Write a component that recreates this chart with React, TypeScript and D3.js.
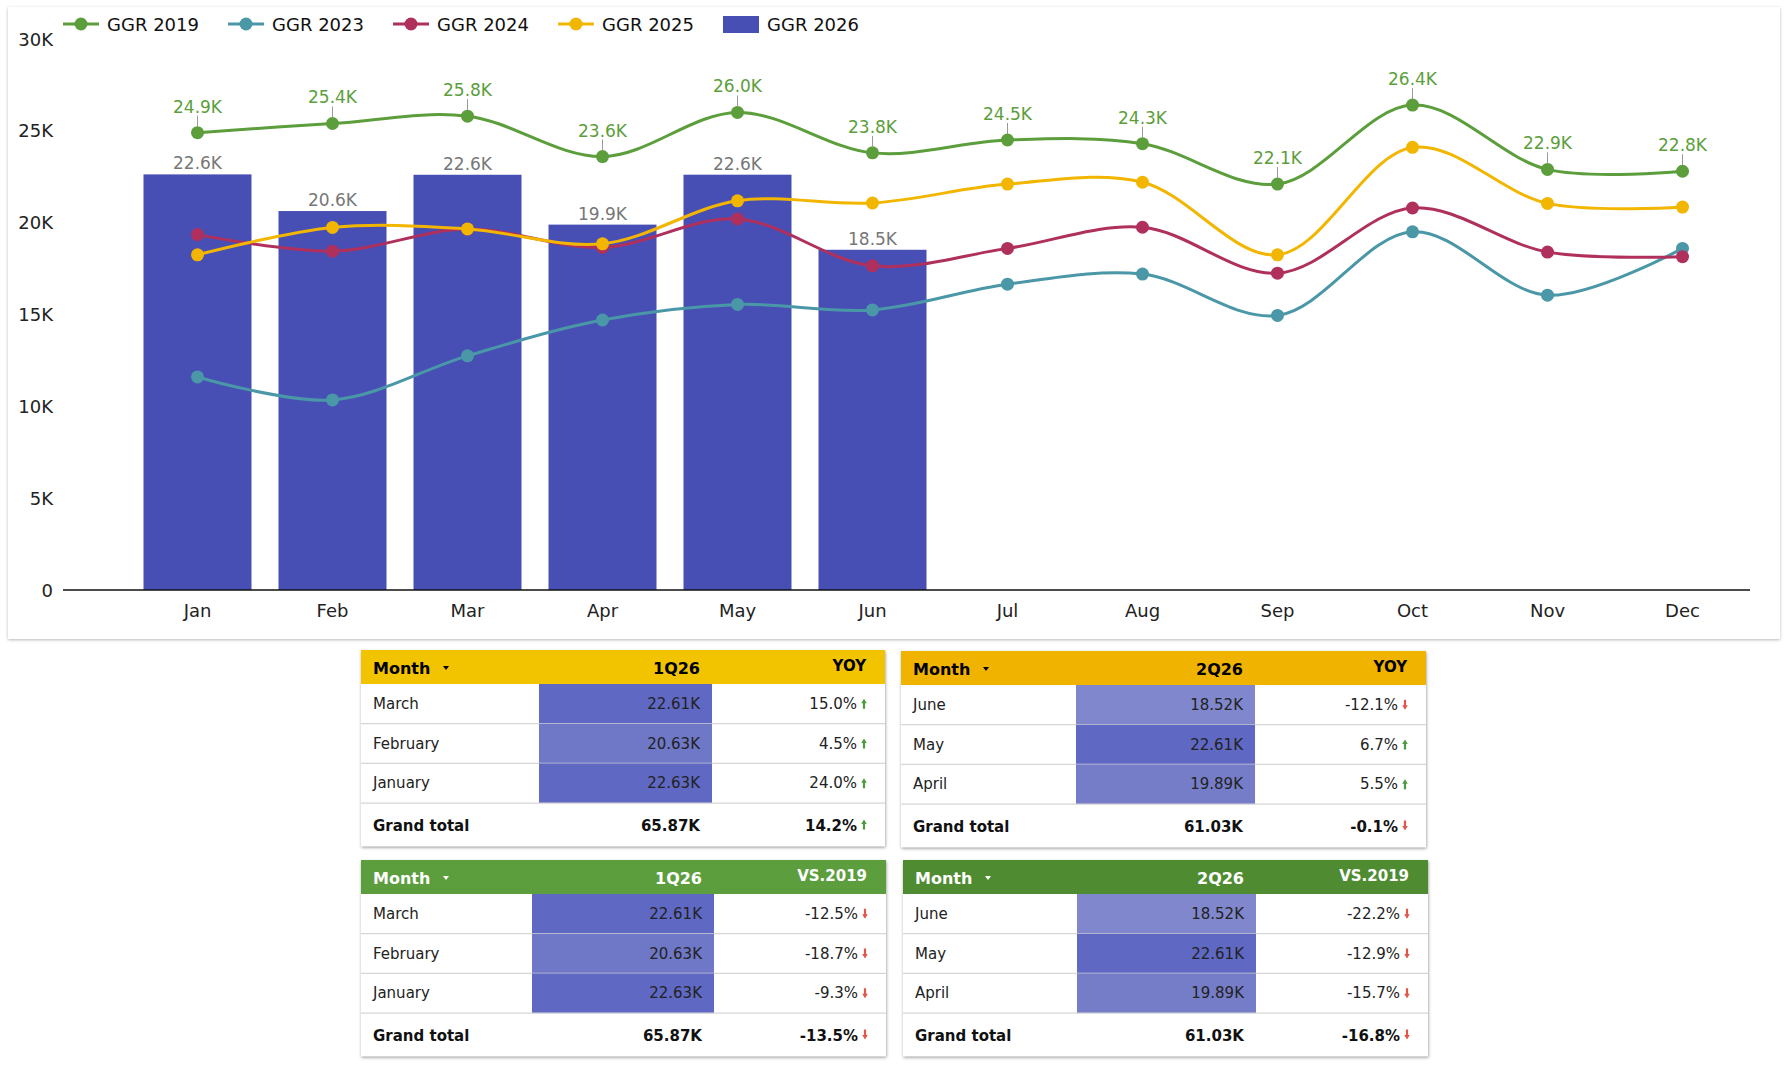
import React from 'react';
import * as d3 from 'd3';

// Monthly GGR by year
const months = ['Jan', 'Feb', 'Mar', 'Apr', 'May', 'Jun', 'Jul', 'Aug', 'Sep', 'Oct', 'Nov', 'Dec'];
const ggr2019 = [24900, 25400, 25800, 23600, 26000, 23800, 24500, 24300, 22100, 26400, 22900, 22800];
const ggr2023 = [11600, 10350, 12750, 14700, 15550, 15250, 16650, 17200, 14950, 19500, 16050, 18600];
const ggr2024 = [19350, 18450, 19650, 18650, 20200, 17650, 18600, 19750, 17250, 20800, 18400, 18150];
const ggr2025 = [18250, 19740, 19660, 18850, 21190, 21070, 22100, 22200, 18250, 24100, 21050, 20850];
const ggr2026 = [22628, 20633, 22608, 19894, 22612, 18524];

const yTicks = [0, 5000, 10000, 15000, 20000, 25000, 30000];

// Quarter tables
const monthNames = ['January', 'February', 'March', 'April', 'May', 'June'];
const q1Rows = [2, 1, 0];
const q2Rows = [5, 4, 3];
const q1Yoy = [15.0, 4.5, 24.0];
const q1YoyTotal = 14.2;
const q2Yoy = [-12.1, 6.7, 5.5];
const q2YoyTotal = -0.1;
const q1Vs2019 = [-12.5, -18.7, -9.3];
const q1Vs2019Total = -13.5;
const q2Vs2019 = [-22.2, -12.9, -15.7];
const q2Vs2019Total = -16.8;

const C2019 = '#5b9e3b';
const C2023 = '#4a97a8';
const C2024 = '#b0305d';
const C2025 = '#f2b600';
const C2026 = '#474fb4';

const FONT = '"DejaVu Sans", Verdana, sans-serif';

const loc = d3.formatLocale({ decimal: '.', thousands: ',', grouping: [3], currency: ['$', ''], minus: '-' });
const fmtK1 = (v: number) => loc.format('.1f')(v / 1000) + 'K';
const fmtK2 = (v: number) => loc.format('.2f')(v / 1000) + 'K';
const fmtPct = (v: number) => loc.format('.1f')(v) + '%';

const series = [
  { name: 'GGR 2019', values: ggr2019, color: C2019 },
  { name: 'GGR 2023', values: ggr2023, color: C2023 },
  { name: 'GGR 2024', values: ggr2024, color: C2024 },
  { name: 'GGR 2025', values: ggr2025, color: C2025 },
];

const heat = d3.scaleLinear<string>().domain([18524, 22628]).range(['#8087cd', '#5f68c2']);

function Arrow({ cx, cy, up }: { cx: number; cy: number; up: boolean }) {
  const s = up ? 1 : -1;
  const t = cy - 5 * s;
  const d = `M${cx},${t} L${cx + 2.8},${t + 4.5 * s} L${cx + 1.1},${t + 4.5 * s} L${cx + 1.1},${t + 10 * s} L${cx - 1.1},${t + 10 * s} L${cx - 1.1},${t + 4.5 * s} L${cx - 2.8},${t + 4.5 * s} Z`;
  return <path d={d} fill={up ? '#4e9a3e' : '#e2574b'} />;
}

type TableProps = {
  x: number; y: number; w: number; barX: number; barW: number;
  head: string; headText: string; quarter: string; metric: string;
  rows: number[]; pcts: number[]; totalPct: number;
};

function QuarterTable(p: TableProps) {
  const headH = 34, rowH = 39.7, totH = 43;
  const h = headH + rowH * 3 + totH;
  const valRight = p.barX + p.barW - 12;
  const pctRight = p.x + p.w - 28;
  const arrowX = p.x + p.w - 21;
  const total = d3.sum(p.rows, (i) => ggr2026[i]);
  const totY = p.y + headH + rowH * 3;
  return (
    <g>
      <rect x={p.x} y={p.y} width={p.w} height={h} fill="#fff" filter="url(#tshadow)" />
      <rect x={p.x} y={p.y} width={p.w} height={headH} fill={p.head} />
      <text x={p.x + 12} y={p.y + 24} fontSize={16} fontWeight="bold" fill={p.headText}>Month</text>
      <path d={`M${p.x + 82},${p.y + 16} L${p.x + 88},${p.y + 16} L${p.x + 85},${p.y + 20} Z`} fill={p.headText} />
      <text x={valRight} y={p.y + 24} fontSize={16} fontWeight="bold" textAnchor="end" fill={p.headText}>{p.quarter}</text>
      <text x={p.x + p.w - 19} y={p.y + 21} fontSize={15} fontWeight="bold" textAnchor="end" fill={p.headText}>{p.metric}</text>
      {p.rows.map((mi, r) => {
        const ry = p.y + headH + r * rowH;
        const cy = ry + rowH / 2;
        const pct = p.pcts[r];
        return (
          <g key={mi}>
            <rect x={p.barX} y={ry} width={p.barW} height={rowH} fill={heat(ggr2026[mi])} />
            <text x={p.x + 12} y={cy + 5} fontSize={15} fill="#222">{monthNames[mi]}</text>
            <text x={valRight} y={cy + 5} fontSize={15} fill="#222" textAnchor="end">{fmtK2(ggr2026[mi])}</text>
            <text x={pctRight} y={cy + 5} fontSize={15} fill="#222" textAnchor="end">{fmtPct(pct)}</text>
            <Arrow cx={arrowX} cy={cy} up={pct >= 0} />
            <line x1={p.x} x2={p.x + p.w} y1={ry + rowH} y2={ry + rowH} stroke="#d6d6d6" strokeWidth={1.2} />
          </g>
        );
      })}
      <text x={p.x + 12} y={totY + totH / 2 + 6} fontSize={15} fontWeight="bold" fill="#111">Grand total</text>
      <text x={valRight} y={totY + totH / 2 + 6} fontSize={15} fontWeight="bold" fill="#111" textAnchor="end">{fmtK2(total)}</text>
      <text x={pctRight} y={totY + totH / 2 + 6} fontSize={15} fontWeight="bold" fill="#111" textAnchor="end">{fmtPct(p.totalPct)}</text>
      <Arrow cx={arrowX} cy={totY + totH / 2} up={p.totalPct >= 0} />
    </g>
  );
}

export default function App() {
  const x = d3.scaleBand<string>().domain(months).range([130, 1750]).paddingInner(0.2).paddingOuter(0.1);
  const y = d3.scaleLinear().domain([0, 30000]).range([590, 39]);
  const cx = (i: number) => (x(months[i]) as number) + x.bandwidth() / 2;
  const line = d3.line<number>().x((_, i) => cx(i)).y((d) => y(d)).curve(d3.curveCatmullRom.alpha(0.5));

  const legendX = [63, 228, 393, 558, 723];

  return (
    <div style={{ position: 'absolute', left: 0, top: 0 }}>
      <svg width={1786} height={1071} style={{ display: 'block', fontFamily: FONT }}>
        <defs>
          <filter id="cshadow" x="-2%" y="-2%" width="104%" height="106%">
            <feDropShadow dx="0" dy="1" stdDeviation="1.5" floodColor="#000" floodOpacity="0.28" />
          </filter>
          <filter id="tshadow" x="-3%" y="-3%" width="106%" height="110%">
            <feDropShadow dx="0.5" dy="1.5" stdDeviation="1.4" floodColor="#000" floodOpacity="0.4" />
          </filter>
        </defs>
        <rect width={1786} height={1071} fill="#fff" />
        <rect x={8} y={7} width={1772} height={632} fill="#fff" filter="url(#cshadow)" />

        {/* legend */}
        {series.map((s, i) => (
          <g key={s.name}>
            <line x1={legendX[i]} x2={legendX[i] + 36} y1={24} y2={24} stroke={s.color} strokeWidth={3} />
            <circle cx={legendX[i] + 18} cy={24} r={6.5} fill={s.color} />
            <text x={legendX[i] + 44} y={31} fontSize={18} fill="#111">{s.name}</text>
          </g>
        ))}
        <rect x={legendX[4]} y={16} width={36} height={17} fill={C2026} />
        <text x={legendX[4] + 44} y={31} fontSize={18} fill="#111">GGR 2026</text>

        {/* y axis labels */}
        {yTicks.map((t) => (
          <text key={t} x={53} y={y(t) + 6.5} fontSize={18} textAnchor="end" fill="#222">
            {t === 0 ? '0' : `${t / 1000}K`}
          </text>
        ))}

        {/* bars */}
        {ggr2026.map((v, i) => (
          <g key={i}>
            <rect x={x(months[i])} y={y(v)} width={x.bandwidth()} height={y(0) - y(v)} fill={C2026} />
            <text x={cx(i)} y={y(v) - 5} fontSize={17} textAnchor="middle" fill="#777">{fmtK1(v)}</text>
          </g>
        ))}

        <line x1={63} x2={1750} y1={y(0)} y2={y(0)} stroke="#111" strokeWidth={1.5} />
        {months.map((m, i) => (
          <text key={m} x={cx(i)} y={617} fontSize={18} textAnchor="middle" fill="#222">{m}</text>
        ))}

        {/* lines */}
        {series.map((s) => (
          <g key={s.name}>
            <path d={line(s.values) || ''} fill="none" stroke={s.color} strokeWidth={3} />
            {s.values.map((v, i) => (
              <circle key={i} cx={cx(i)} cy={y(v)} r={6.5} fill={s.color} />
            ))}
          </g>
        ))}

        {/* 2019 value labels */}
        {ggr2019.map((v, i) => (
          <g key={i}>
            <line x1={cx(i)} x2={cx(i)} y1={y(v) - 6} y2={y(v) - 17} stroke="#999" strokeWidth={1} />
            <text x={cx(i)} y={y(v) - 20} fontSize={17} textAnchor="middle" fill={C2019}>{fmtK1(v)}</text>
          </g>
        ))}

        <QuarterTable x={361} y={650} w={524} barX={539} barW={173} head="#f2c400" headText="#000"
          quarter="1Q26" metric="YOY" rows={q1Rows} pcts={q1Yoy} totalPct={q1YoyTotal} />
        <QuarterTable x={901} y={651} w={525} barX={1076} barW={179} head="#f0b400" headText="#000"
          quarter="2Q26" metric="YOY" rows={q2Rows} pcts={q2Yoy} totalPct={q2YoyTotal} />
        <QuarterTable x={361} y={860} w={525} barX={532} barW={182} head="#5c9e3d" headText="#fff"
          quarter="1Q26" metric="VS.2019" rows={q1Rows} pcts={q1Vs2019} totalPct={q1Vs2019Total} />
        <QuarterTable x={903} y={860} w={525} barX={1077} barW={179} head="#4f8c31" headText="#fff"
          quarter="2Q26" metric="VS.2019" rows={q2Rows} pcts={q2Vs2019} totalPct={q2Vs2019Total} />
      </svg>
    </div>
  );
}
